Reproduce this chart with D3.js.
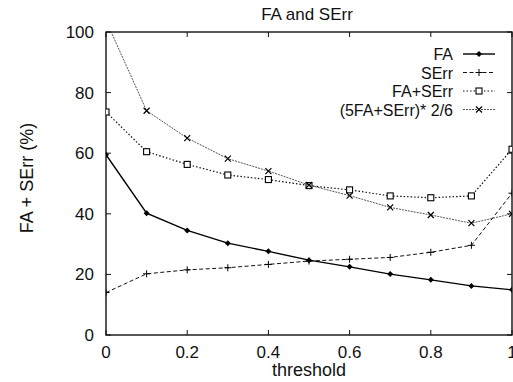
<!DOCTYPE html>
<html><head><meta charset="utf-8">
<script src="https://cdn.jsdelivr.net/npm/d3@7"></script>
<style>
body{margin:0;background:#fff;}
text{font-family:"Liberation Sans",Arial,sans-serif;fill:#111;}
</style></head>
<body>
<svg id="c" width="513" height="382"></svg>
<script>
const thresholds = [0,0.1,0.2,0.3,0.4,0.5,0.6,0.7,0.8,0.9,1.0];
const faValues = [59.5,40.2,34.5,30.3,27.6,24.7,22.5,20.1,18.2,16.2,14.9];
const serrValues = [14.0,20.2,21.5,22.2,23.3,24.4,25.0,25.6,27.3,29.6,46.8];
const sumValues = [73.6,60.5,56.3,52.8,51.3,49.3,47.9,45.9,45.3,45.9,61.3];
const weightedValues = [103.8,74.0,65.0,58.2,54.1,49.5,46.0,42.1,39.6,36.9,40.0];
const seriesNames = ["FA","SErr","FA+SErr","(5FA+SErr)* 2/6"];
const xTicks = [0,0.2,0.4,0.6,0.8,1];
const xTickLabels = ["0","0.2","0.4","0.6","0.8","1"];
const yTicks = [0,20,40,60,80,100];

const svg = d3.select("#c");
const L=106, R=512, T=32, B=335;
const x = d3.scaleLinear().domain([0,1]).range([L,R]);
const y = d3.scaleLinear().domain([0,100]).range([B,T]);

svg.append("defs").append("clipPath").attr("id","pc")
  .append("rect").attr("x",L).attr("y",T).attr("width",R-L).attr("height",B-T);

// frame
svg.append("rect").attr("x",L).attr("y",T).attr("width",R-L).attr("height",B-T)
  .attr("fill","none").attr("stroke","#111").attr("stroke-width",1.4);

// ticks (inward, mirrored)
const tl=5;
const tickG = svg.append("g").attr("stroke","#111").attr("stroke-width",1);
xTicks.forEach(t=>{
  tickG.append("line").attr("x1",x(t)).attr("x2",x(t)).attr("y1",B).attr("y2",B-tl);
  tickG.append("line").attr("x1",x(t)).attr("x2",x(t)).attr("y1",T).attr("y2",T+tl);
});
yTicks.forEach(t=>{
  tickG.append("line").attr("x1",L).attr("x2",L+tl).attr("y1",y(t)).attr("y2",y(t));
  tickG.append("line").attr("x1",R).attr("x2",R-tl).attr("y1",y(t)).attr("y2",y(t));
});

// tick labels
svg.append("g").selectAll("text").data(xTicks).join("text")
  .attr("x",d=>x(d)).attr("y",358).attr("text-anchor","middle")
  .attr("font-size",17).text((d,i)=>xTickLabels[i]);
svg.append("g").selectAll("text").data(yTicks).join("text")
  .attr("x",94).attr("y",d=>y(d)+6).attr("text-anchor","end")
  .attr("font-size",17).text(d=>d);

// titles
svg.append("text").attr("x",307).attr("y",20).attr("text-anchor","middle")
  .attr("font-size",17).text("FA and SErr");
svg.append("text").attr("x",309).attr("y",376).attr("text-anchor","middle")
  .attr("font-size",18).text("threshold");
svg.append("text").attr("transform","translate(33,178) rotate(-90)")
  .attr("text-anchor","middle").attr("font-size",18).text("FA + SErr (%)");

const series = [
  {name:seriesNames[0], vals:faValues, stroke:"#000", w:1.4, dash:null, marker:"dot"},
  {name:seriesNames[1], vals:serrValues, stroke:"#111", w:1, dash:"4,2.5", marker:"plus"},
  {name:seriesNames[2], vals:sumValues, stroke:"#111", w:1.2, dash:"1.5,2", marker:"square"},
  {name:seriesNames[3], vals:weightedValues, stroke:"#444", w:0.9, dash:"2,1", marker:"cross"}
];

const line = d3.line().x((d,i)=>x(thresholds[i])).y(d=>y(d));
const plotG = svg.append("g").attr("clip-path","url(#pc)");

function drawMarker(g, type, cx, cy){
  if(type==="dot"){
    g.append("path").attr("d",`M${cx},${cy-3}L${cx+3},${cy}L${cx},${cy+3}L${cx-3},${cy}Z`)
      .attr("fill","#000");
  } else if(type==="plus"){
    g.append("path").attr("d",`M${cx-3.5},${cy}H${cx+3.5}M${cx},${cy-3.5}V${cy+3.5}`)
      .attr("stroke","#000").attr("stroke-width",1).attr("fill","none");
  } else if(type==="square"){
    g.append("rect").attr("x",cx-3).attr("y",cy-3).attr("width",6).attr("height",6)
      .attr("fill","#fff").attr("stroke","#000").attr("stroke-width",1.1);
  } else if(type==="cross"){
    g.append("path").attr("d",`M${cx-3},${cy-3}L${cx+3},${cy+3}M${cx-3},${cy+3}L${cx+3},${cy-3}`)
      .attr("stroke","#000").attr("stroke-width",1.2).attr("fill","none");
  }
}

series.forEach(s=>{
  plotG.append("path").attr("d",line(s.vals)).attr("fill","none")
    .attr("stroke",s.stroke).attr("stroke-width",s.w)
    .attr("stroke-dasharray",s.dash);
  s.vals.forEach((v,i)=>{ if(v<=100) drawMarker(plotG,s.marker,x(thresholds[i]),y(v)); });
});

// legend
series.forEach((s,i)=>{
  const ly = 54 + i*18.5;
  svg.append("text").attr("x",453).attr("y",ly+6).attr("text-anchor","end")
    .attr("font-size",16).attr("font-size-adjust",null).text(s.name);
  svg.append("line").attr("x1",463).attr("x2",495).attr("y1",ly).attr("y2",ly)
    .attr("stroke",s.stroke).attr("stroke-width",s.w).attr("stroke-dasharray",s.dash);
  drawMarker(svg,s.marker,479,ly);
});
</script>
</body></html>
